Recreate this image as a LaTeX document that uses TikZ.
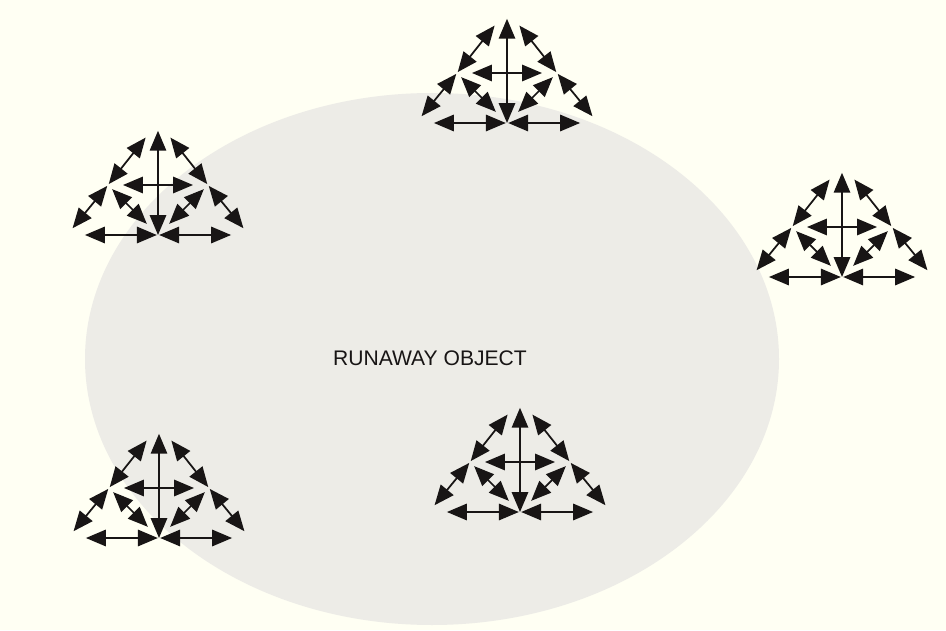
\documentclass[tikz,border=0pt]{standalone}
\usepackage{fontspec}
\usetikzlibrary{arrows.meta}
\newfontfamily\labelfont{Liberation Sans}
\definecolor{cream1}{RGB}{255, 255, 243}
\definecolor{gray1}{RGB}{237, 236, 231}
\definecolor{ink1}{RGB}{24, 21, 21}

\begin{document}
\begin{tikzpicture}[x=0.03cm, y=0.03cm, line width=1.5pt,
  >={Triangle[length=17pt,width=14pt]}]
  \fill[cream1] (0,0) rectangle (946,630);
  \fill[gray1] (432,271) ellipse [x radius=347, y radius=266];
  \node[font=\labelfont\fontsize{18}{21}\selectfont, text=ink1] (runaway) at (430,271.5) {RUNAWAY OBJECT};

  \foreach \g/\x/\y in {top/507/507, left/158/395, right/842/353, low/159/92, mid/520/118}
  {
    \coordinate (\g-a) at (\x,\y+113);
    \coordinate (\g-ml) at (\x-50,\y+50);
    \coordinate (\g-mr) at (\x+50,\y+50);
    \coordinate (\g-bl) at (\x-91,\y);
    \coordinate (\g-bc) at (\x,\y);
    \coordinate (\g-br) at (\x+91,\y);
    \foreach \from/\to/\sa/\sb in {a/ml/17pt/1pt, ml/bl/1pt/7.5pt, a/mr/17pt/1pt, mr/br/1pt/7.5pt,
        ml/mr/12.8pt/12.8pt, ml/bc/5pt/13.5pt, mr/bc/5pt/13.5pt,
        bc/a/0pt/7.5pt, bc/bl/1pt/15.3pt, bc/br/1pt/15.3pt}
      \draw[<->, ink1, shorten <=\sa, shorten >=\sb] (\g-\from) -- (\g-\to);
  }
\end{tikzpicture}
\end{document}
